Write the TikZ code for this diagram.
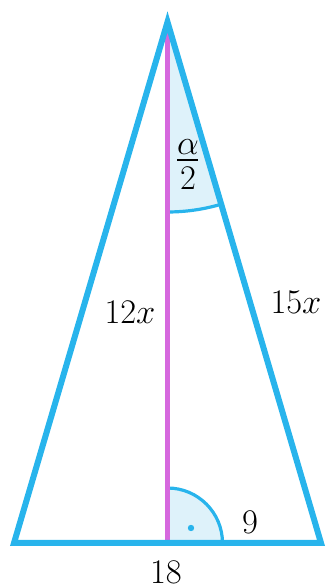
\documentclass[tikz,border=0pt]{standalone}
\usepackage{amsmath}
\usepackage{tikz}
\usetikzlibrary{calc}
\definecolor{sideblue}{RGB}{40,180,236}
\definecolor{altpink}{RGB}{214,104,222}
\definecolor{anglefill}{RGB}{222,242,250}

\begin{document}
\begin{tikzpicture}[x=0.5pt, y=0.5pt,
  side/.style={draw=sideblue, line width=3pt, line join=miter},
  alt/.style={draw=altpink, line width=2.4pt},
  angarc/.style={draw=sideblue, line width=1.6pt},
  lbl/.style={font=\fontsize{17}{20}\selectfont, inner sep=0pt}
]
\useasboundingbox (0,0) rectangle (329,587);
\coordinate (A) at (167.5,565);
\coordinate (B) at (14,44);
\coordinate (C) at (321,44);
\coordinate (H) at (167.5,44);

% angle fills
\fill[anglefill] (A) -- ++(-90:95pt) arc[start angle=-90, end angle=-73.6, radius=95pt] -- cycle;
\fill[anglefill] (H) -- ++(0:27.5pt) arc[start angle=0, end angle=90, radius=27.5pt] -- cycle;
\draw[angarc] (A) ++(-90:95pt) arc[start angle=-90, end angle=-73.6, radius=95pt];
\draw[angarc] (H) ++(0:27.5pt) arc[start angle=0, end angle=90, radius=27.5pt];
\fill[sideblue] ($(H)+(23.5,15)$) circle (1.6pt);

\draw[alt] (A) -- (H);
\draw[side] (A) -- (B) -- (C) -- cycle;

% alpha over 2
\node[lbl, anchor=south] (alpha) at (188,432) {$\alpha$};
\node[lbl, anchor=north] (two) at (188,420) {$2$};
\draw[line width=0.7pt] (177,427) -- (198,427);

\node[lbl] (h) at (130,275) {$12x$};
\node[lbl] (s) at (296,285) {$15x$};
\node[lbl] (n) at (250,65) {$9$};
\node[lbl] (b) at (166,15) {$18$};
\end{tikzpicture}
\end{document}
